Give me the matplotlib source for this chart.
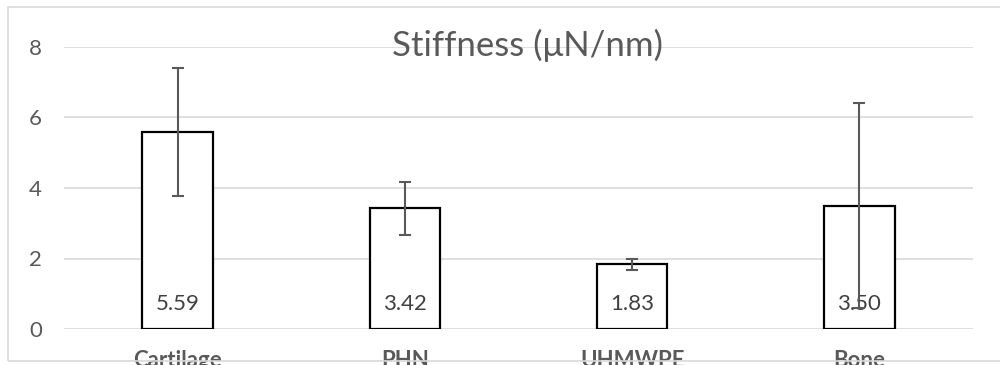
import matplotlib.pyplot as plt
from matplotlib.patches import Rectangle

plt.rcParams["font.family"] = ["Lato", "DejaVu Sans"]

categories = ["Cartilage", "PHN", "UHMWPE", "Bone"]
stiffness = [5.59, 3.42, 1.83, 3.50]
errors = [1.82, 0.75, 0.16, 2.90]
value_labels = ["5.59", "3.42", "1.83", "3.50"]
yticks = [0, 2, 4, 6, 8]

GRID = "#d9d9d9"
TEXT = "#595959"

fig = plt.figure(figsize=(10, 3.65), dpi=100)
ax = fig.add_axes([0.064, 1 - 329 / 365, 0.909, (329 - 47) / 365])

x = range(len(categories))
ax.bar(x, stiffness, width=0.31, color="white", edgecolor="black",
       linewidth=1.6, zorder=2)
ax.errorbar(x, stiffness, yerr=errors, fmt="none", ecolor=TEXT,
            elinewidth=1.5, capsize=4.5, capthick=1.5, zorder=4)

for i, lab in enumerate(value_labels):
    ax.text(i, 0.72, lab, ha="center", va="center", fontsize=16,
            color="#404040", zorder=3)

ax.set_xlim(-0.5, len(categories) - 0.5)
ax.set_ylim(0, 8)
ax.set_yticks(yticks)
ax.set_yticklabels([str(t) for t in yticks], fontsize=16, color=TEXT)
ax.set_xticks([])
ax.tick_params(axis="y", length=0, pad=16)
ax.grid(True, axis="y", color=GRID, linewidth=1.2, zorder=0)
ax.set_axisbelow(True)
for s in ax.spines.values():
    s.set_visible(False)

# category labels, clipped by the bottom edge as in the original
for i, c in enumerate(categories):
    ax.text(i, -0.6, c, ha="center", va="top", fontsize=16,
            fontweight="bold", color=TEXT, clip_on=False)

fig.text(0.528, 1 - 45 / 365, "Stiffness (\u03bcN/nm)", ha="center",
         va="center", fontsize=25, color=TEXT)

# chart-area border
fig.patches.append(Rectangle((8 / 1000, 1 - 361 / 365), 1.0, (361 - 7) / 365,
                             transform=fig.transFigure, fill=False,
                             edgecolor=GRID, linewidth=1.2))

fig.savefig("out.png", dpi=100)
